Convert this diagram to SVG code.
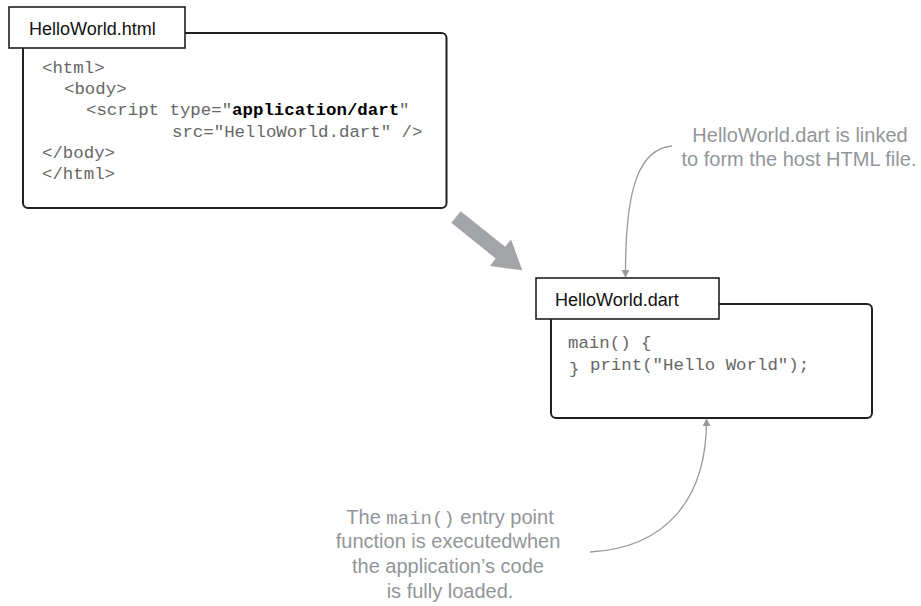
<svg xmlns="http://www.w3.org/2000/svg" width="921" height="606" viewBox="0 0 921 606">
<style>
.box{fill:#fff;stroke:#231f20;stroke-width:2}
.tab{fill:#fff;stroke:#231f20;stroke-width:1.6}
.tl{font-family:"Liberation Sans",Arial,sans-serif;font-size:18px;fill:#111}
.code{font-family:"Liberation Mono","Courier New",monospace;font-size:17.4px;fill:#666}
.b{font-weight:bold;fill:#000}
.ann{font-family:"Liberation Sans",Arial,sans-serif;font-size:20px;fill:#939598;text-anchor:middle}
.annm{font-family:"Liberation Mono","Courier New",monospace;font-size:19px}
.lead{fill:none;stroke:#9a9a9c;stroke-width:1.3}
</style>
<defs>
<marker id="ah" viewBox="0 0 10 10" refX="9" refY="5" markerWidth="8" markerHeight="8" markerUnits="userSpaceOnUse" orient="auto">
<path d="M0,0 L10,5 L0,10 z" fill="#9a9a9c"/>
</marker>
</defs>
<g id="node-html">
<rect class="box" x="23" y="33" width="423.5" height="175" rx="5"/>
<rect class="tab" x="9" y="7" width="176" height="41"/>
<text class="tl" x="29" y="35">HelloWorld.html</text>
<text class="code" x="42" y="73">&lt;html&gt;</text>
<text class="code" x="64" y="94.2">&lt;body&gt;</text>
<text class="code" x="86" y="115.4">&lt;script type="<tspan class="b">application/dart</tspan>"</text>
<text class="code" x="172" y="136.6">src="HelloWorld.dart" /&gt;</text>
<text class="code" x="42" y="157.8">&lt;/body&gt;</text>
<text class="code" x="42" y="179">&lt;/html&gt;</text>
</g>
<g id="node-dart">
<rect class="box" x="551" y="304" width="321" height="114" rx="5"/>
<rect class="tab" x="536" y="278" width="183" height="41"/>
<text class="tl" x="555" y="306">HelloWorld.dart</text>
<text class="code" x="568" y="348">main() {</text>
<text class="code" x="590" y="370">print("Hello World");</text>
<text class="code" x="569" y="374">}</text>
</g>
<g id="note-linked">
<text class="ann" x="800" y="142">HelloWorld.dart is linked</text>
<text class="ann" x="799" y="166">to form the host HTML file.</text>
</g>
<g id="note-main">
<text class="ann" x="450" y="524">The <tspan class="annm">main()</tspan> entry point</text>
<text class="ann" x="448" y="548">function is executedwhen</text>
<text class="ann" x="448" y="573">the application’s code</text>
<text class="ann" x="450" y="598">is fully loaded.</text>
</g>
<g id="connectors">
<polygon transform="translate(456,217) rotate(38.8)" points="0,-7.5 57,-7.5 57,-17 85,0 57,17 57,7.5 0,7.5" fill="#a3a4a7"/>
<path class="lead" d="M672,146 C640,149 625,185 625.5,277" marker-end="url(#ah)"/>
<path class="lead" d="M590,552 C665,548 707,500 706.5,419" marker-end="url(#ah)"/>
</g>
</svg>
